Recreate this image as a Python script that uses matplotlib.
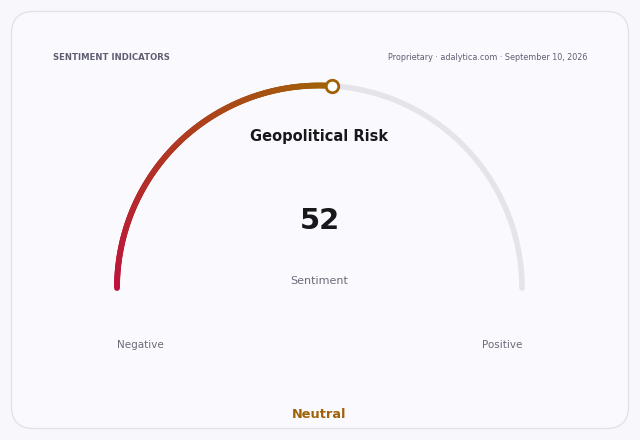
import numpy as np
import matplotlib
matplotlib.use("Agg")
import matplotlib.pyplot as plt
from matplotlib.collections import LineCollection
from matplotlib.patches import FancyBboxPatch
from matplotlib.colors import to_rgb

# data
title = "Geopolitical Risk"
value = 52
vmin, vmax = 0, 100
label = "Sentiment"
status = "Neutral"
left_label = "Negative"
right_label = "Positive"
header_left = "SENTIMENT INDICATORS"
header_right = "Proprietary \u00b7 adalytica.com \u00b7 September 10, 2026"

col_start = "#be123c"
col_end = "#a16207"
track_col = "#e4e4e9"

fig = plt.figure(figsize=(6.4, 4.4), dpi=100)
fig.patch.set_facecolor("#f8f8fc")
ax = fig.add_axes([0, 0, 1, 1])
ax.set_xlim(0, 640)
ax.set_ylim(440, 0)
ax.axis("off")

card = FancyBboxPatch((11.5, 11.5), 617, 417, boxstyle="round,pad=0,rounding_size=22",
                      facecolor="#fafafe", edgecolor="#e2e2ea", linewidth=1.0)
ax.add_patch(card)

ax.text(53, 58, header_left, fontsize=6.1, fontweight="bold", color="#5e5e72", va="center")
ax.text(587, 58, header_right, fontsize=5.8, color="#5e5e72", va="center", ha="right")

cx, cy, r = 319.5, 288, 202.5
frac = (value - vmin) / (vmax - vmin)

# track
th = np.linspace(np.pi, 0, 300)
ax.plot(cx + r * np.cos(th), cy - r * np.sin(th), color=track_col, lw=4, solid_capstyle="round", zorder=2)

# gradient value arc
n = 200
th = np.linspace(np.pi, np.pi * (1 - frac), n)
xs = cx + r * np.cos(th)
ys = cy - r * np.sin(th)
pts = np.column_stack([xs, ys]).reshape(-1, 1, 2)
segs = np.concatenate([pts[:-1], pts[1:]], axis=1)
c0, c1 = np.array(to_rgb(col_start)), np.array(to_rgb(col_end))
t = np.linspace(0, 1, n - 1)[:, None]
cols = c0 * (1 - t) + c1 * t
lc = LineCollection(segs, colors=cols, linewidths=4.2, capstyle="round", zorder=3)
ax.add_collection(lc)
ax.plot(xs[-1], ys[-1], "o", ms=9, mfc="white", mec=col_end, mew=2, zorder=4)

ax.text(cx, 137, title, fontsize=10.5, fontweight="bold", color="#18181b", ha="center", va="center")
ax.text(cx, 221, str(value), fontsize=21, fontweight="bold", color="#18181b", ha="center", va="center")
ax.text(cx, 281, label, fontsize=8, color="#6b6b78", ha="center", va="center")
ax.text(117, 345, left_label, fontsize=7.5, color="#6b6b78", ha="left", va="center")
ax.text(522, 345, right_label, fontsize=7.5, color="#6b6b78", ha="right", va="center")
ax.text(cx, 414, status, fontsize=9.3, fontweight="bold", color=col_end, ha="center", va="center")

fig.savefig("out.png", dpi=100, facecolor=fig.get_facecolor())
